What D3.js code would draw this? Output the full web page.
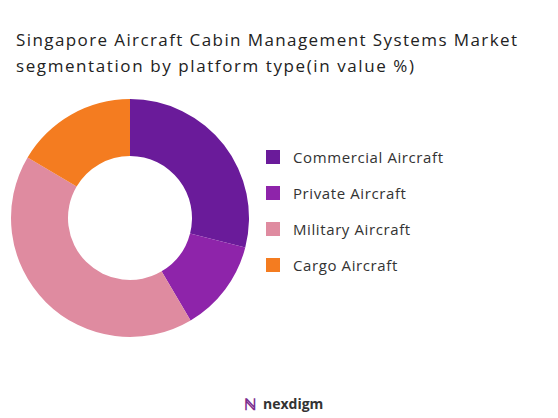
<!DOCTYPE html>
<html><head><meta charset="utf-8">
<script src="https://cdn.jsdelivr.net/npm/d3@7"></script>
<style>body{margin:0;background:#fff;font-family:"Open Sans",sans-serif}</style>
</head><body>
<svg id="c" width="558" height="418"></svg>
<script>
const categories = ["Commercial Aircraft","Private Aircraft","Military Aircraft","Cargo Aircraft"];
const values = [29, 12.5, 42, 16.5];
const colors = ["#6A1B9A","#8E24AA","#DF8BA0","#F47C20"];
const svg = d3.select("#c");
const t1 = svg.append("text").attr("x",16).attr("y",46).attr("font-size",17).attr("fill","#222").attr("font-weight",500)
  .attr("textLength",501).text("Singapore Aircraft Cabin Management Systems Market");
svg.append("text").attr("x",16).attr("y",72).attr("font-size",17).attr("fill","#222").attr("font-weight",500)
  .attr("textLength",398).text("segmentation by platform type(in value %)");
const pie = d3.pie().sort(null).value(d=>d)(values);
const arc = d3.arc().innerRadius(62).outerRadius(119);
const g = svg.append("g").attr("transform","translate(130,218)");
g.selectAll("path").data(pie).join("path").attr("d",arc).attr("fill",(d,i)=>colors[i]);
const y = d3.scalePoint().domain(categories).range([157,265]);
const lg = svg.append("g");
categories.forEach((c,i)=>{
  lg.append("rect").attr("x",266).attr("y",y(c)-7).attr("width",14).attr("height",14).attr("fill",colors[i]);
  lg.append("text").attr("x",293).attr("y",y(c)+5.5).attr("font-size",15).attr("fill","#333").attr("letter-spacing",0.6).text(c);
});
svg.append("text").attr("x",244).attr("y",410).attr("font-size",16).attr("fill","#7B2D8E").attr("font-weight",700).text("ℕ");
svg.append("text").attr("x",263).attr("y",409).attr("font-size",14).attr("fill","#333").attr("font-weight",700).text("nexdigm");
</script></body></html>
